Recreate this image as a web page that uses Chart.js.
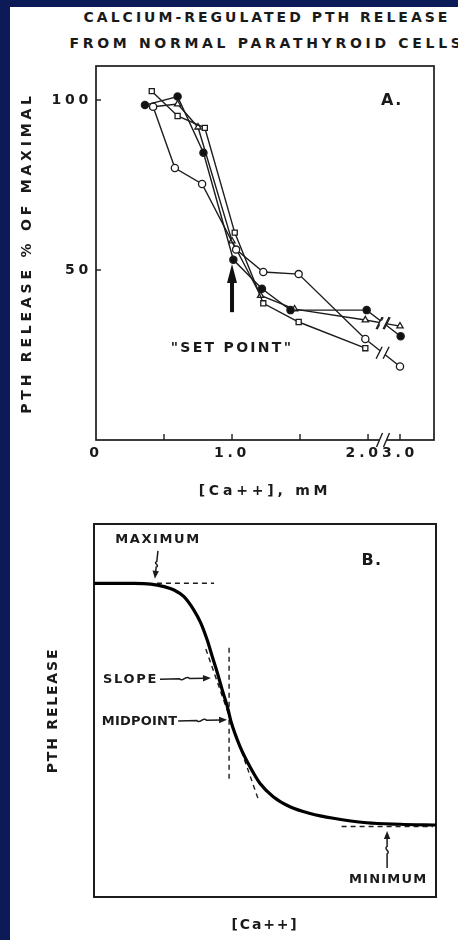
<!DOCTYPE html>
<html><head><meta charset="utf-8">
<script src="https://cdn.jsdelivr.net/npm/chart.js@4/dist/chart.umd.min.js"></script>
<style>
html,body{margin:0;padding:0;}
body{width:458px;height:940px;background:#0c1b57;position:relative;overflow:hidden;font-family:"DejaVu Sans",sans-serif;}
#paper{position:absolute;left:10px;top:7px;right:0;bottom:0;background:#fff;}
.t{position:absolute;left:-133px;width:800px;text-align:center;white-space:nowrap;color:#1a1a1a;font-size:14px;font-weight:bold;line-height:18px;}
canvas{position:absolute;left:0;top:0;}
</style></head>
<body>
<div id="paper"></div>
<div class="t" style="top:8px;letter-spacing:3.0px">CALCIUM-REGULATED PTH RELEASE</div>
<div class="t" style="top:34px;letter-spacing:3.7px">FROM NORMAL PARATHYROID CELLS</div>
<div style="position:absolute;left:0;top:0;width:458px;height:505px"><canvas id="ca" width="458" height="505"></canvas></div>
<div style="position:absolute;left:0;top:505px;width:458px;height:435px"><canvas id="cb" width="458" height="435"></canvas></div>
<script>
// ---------- Panel A data: [Ca++] (mM) vs PTH release (% of maximal) ----------
const caFilled      = [0.36, 0.60, 0.79, 1.01, 1.22, 1.43, 1.99, 3.02];
const pthFilled     = [98.5, 101, 84.5, 53, 44.5, 38.2, 38.2, 30.5];
const caOpenCircle  = [0.42, 0.58, 0.78, 1.03, 1.23, 1.49, 1.98, 3.00];
const pthOpenCircle = [98, 80, 75.3, 56, 49.4, 48.8, 29.7, 21.6];
const caOpenSquare  = [0.41, 0.60, 0.80, 1.02, 1.23, 1.49, 1.98];
const pthOpenSquare = [102.6, 95.3, 91.8, 61, 40.2, 34.7, 27.0];
const caTriangle    = [0.42, 0.60, 0.75, 1.00, 1.21, 1.46, 1.98, 3.00];
const pthTriangle   = [98, 98.8, 92, 58.5, 42.5, 38.5, 35.3, 33.5];

const xTickValues = [0, 0.5, 1.0, 1.5, 2.0, 3.0];
const xTickLabels = ['0', '', '1.0', '', '2.0 ', '3.0'];
const yTickValues = [50, 100];
const yTickLabels = ['50', '100'];

// ---------- Panel B data: schematic sigmoid (arbitrary units) ----------
const caB  = [0, 11.7, 16.6, 20.5, 23.4, 26.3, 29.2, 31.2, 33.1, 34.6, 36.1, 37.5, 39.0, 40.1, 42.7, 45.6, 48.5, 52.4, 57.3, 63.2, 70.0, 79.7, 89.5, 100];
const pthB = [84.1, 84.1, 83.9, 83.2, 82.3, 80.5, 76.9, 73.5, 68.9, 64.4, 60.0, 55.5, 51.0, 46.9, 40.3, 34.9, 30.5, 26.9, 24.2, 22.4, 21.1, 19.9, 19.5, 19.3];
const maxGuideX = [18.4, 35.1], maxGuideY = [84.1, 84.1];
const midGuideX = [39.5, 39.5], midGuideY = [66.8, 30.6];
const slopeGuideX = [32.7, 48.3], slopeGuideY = [66.5, 25.5];
const minGuideX = [72.4, 99.1], minGuideY = [18.9, 18.9];

// broken x axis: above 2.0 mM the axis is compressed
const BREAK_AT = 2.0, COMPRESS = 0.235;
const toAxis = ca => ca <= BREAK_AT ? ca : BREAK_AT + (ca - BREAK_AT) * COMPRESS;
const pts = (xs, ys) => xs.map((x, i) => ({x: toAxis(x), y: ys[i]}));
const ptsB = (xs, ys) => xs.map((x, i) => ({x: x, y: ys[i]}));

Chart.defaults.font.family = '"DejaVu Sans", sans-serif';
Chart.defaults.font.weight = 'bold';
Chart.defaults.color = '#1a1a1a';
const INK = '#1c1c1c';

const spacing = {
  id: 'spacing',
  beforeUpdate(c, a, o) { c.ctx.letterSpacing = o.px + 'px'; },
  beforeDraw(c, a, o) { c.ctx.letterSpacing = o.px + 'px'; }
};
const frame = {
  id: 'frame',
  beforeDatasetsDraw(c, a, o) {
    const {ctx, chartArea: ca} = c;
    ctx.save(); ctx.strokeStyle = INK; ctx.lineWidth = o.w;
    ctx.strokeRect(ca.left, ca.top, ca.right - ca.left, ca.bottom - ca.top);
    ctx.restore();
  }
};
function text(ctx, s, x, y, size, sp, align) {
  ctx.save();
  ctx.letterSpacing = sp + 'px';
  ctx.font = 'bold ' + size + 'px "DejaVu Sans", sans-serif';
  ctx.fillStyle = '#1a1a1a'; ctx.textAlign = align || 'center'; ctx.textBaseline = 'middle';
  ctx.fillText(s, x, y);
  ctx.restore();
}
function slashes(ctx, x, y, h) {
  ctx.save(); ctx.strokeStyle = INK; ctx.lineWidth = 1.4;
  [-3.5, 3.5].forEach(d => {
    ctx.beginPath(); ctx.moveTo(x + d - 3, y + h); ctx.lineTo(x + d + 3, y - h); ctx.stroke();
  });
  ctx.restore();
}

const annotA = {
  id: 'annotA',
  afterDatasetsDraw(c) {
    const {ctx, scales: {x, y}, chartArea: ca} = c;
    ctx.save(); ctx.strokeStyle = INK; ctx.lineWidth = 1.4;
    xTickValues.forEach(v => { if (v === 0) return; const px = x.getPixelForValue(toAxis(v));
      ctx.beginPath(); ctx.moveTo(px, ca.bottom); ctx.lineTo(px, ca.bottom - 6); ctx.stroke(); });
    yTickValues.forEach(v => { const py = y.getPixelForValue(v);
      ctx.beginPath(); ctx.moveTo(ca.left, py); ctx.lineTo(ca.left + 5, py); ctx.stroke(); });
    const bx = x.getPixelForValue(2.11);
    ctx.strokeStyle = '#fff'; ctx.lineWidth = 4;
    ctx.beginPath(); ctx.moveTo(bx - 3, ca.bottom); ctx.lineTo(bx + 3, ca.bottom); ctx.stroke();
    slashes(ctx, bx, ca.bottom, 7);
    [0, 1, 3].forEach(i => {
      const d = c.getDatasetMeta(i).data; const a = d[d.length - 2], b = d[d.length - 1];
      const mx = (a.x + b.x) / 2, my = (a.y + b.y) / 2;
      const L = Math.hypot(b.x - a.x, b.y - a.y), ux = (b.x - a.x) / L, uy = (b.y - a.y) / L;
      ctx.strokeStyle = '#fff'; ctx.lineWidth = 4;
      ctx.beginPath(); ctx.moveTo(mx - ux * 3, my - uy * 3); ctx.lineTo(mx + ux * 3, my + uy * 3); ctx.stroke();
      slashes(ctx, mx, my, 6);
    });
    const ax = x.getPixelForValue(1.0), tail = y.getPixelForValue(37.6), tip = y.getPixelForValue(51.8);
    ctx.fillStyle = '#111';
    ctx.fillRect(ax - 2, tip + 16, 4, tail - tip - 16);
    ctx.beginPath(); ctx.moveTo(ax, tip); ctx.lineTo(ax - 5, tip + 19); ctx.lineTo(ax + 5, tip + 19); ctx.closePath(); ctx.fill();
    ctx.restore();
    text(ctx, '"SET POINT"', x.getPixelForValue(1.0), y.getPixelForValue(27), 14, 2.3);
    text(ctx, 'A.', x.getPixelForValue(2.176), y.getPixelForValue(99.7), 16, 1.5);
  }
};

const lineStyle = {borderColor: INK, borderWidth: 1.4, pointBorderColor: INK, pointBorderWidth: 1.3, pointRadius: 3.6, showLine: true, tension: 0};
new Chart(document.getElementById('ca'), {
  type: 'scatter',
  data: {datasets: [
    Object.assign({label: 'Filled circles', data: pts(caFilled, pthFilled), pointStyle: 'circle', pointBackgroundColor: '#111'}, lineStyle),
    Object.assign({label: 'Open circles', data: pts(caOpenCircle, pthOpenCircle), pointStyle: 'circle', pointBackgroundColor: '#fff'}, lineStyle),
    Object.assign({label: 'Open squares', data: pts(caOpenSquare, pthOpenSquare), pointStyle: 'rect', pointBackgroundColor: '#fff'}, lineStyle),
    Object.assign({label: 'Open triangles', data: pts(caTriangle, pthTriangle), pointStyle: 'triangle', pointBackgroundColor: '#fff'}, lineStyle)
  ]},
  options: {
    responsive: false, animation: false, events: [],
    layout: {padding: {top: 66, right: 24, left: 0, bottom: 0}},
    plugins: {legend: {display: false}, tooltip: {enabled: false}, spacing: {px: 3.8}, frame: {w: 1.7}},
    scales: {
      x: {type: 'linear', min: 0, max: 2.485,
        grid: {display: false, drawTicks: false}, border: {display: false},
        afterBuildTicks: s => { s.ticks = xTickValues.map(v => ({value: toAxis(v)})); },
        afterFit: s => { s.height = 65; },
        ticks: {autoSkip: false, maxRotation: 0, padding: 5, font: {size: 14},
          callback: (v) => { const i = xTickValues.findIndex(t => Math.abs(toAxis(t) - v) < 1e-6); return i >= 0 ? xTickLabels[i] : ''; }},
        title: {display: true, text: '[Ca++], mM', font: {size: 14}, padding: {top: 4, bottom: 5}}
      },
      y: {type: 'linear', min: 0, max: 110,
        grid: {display: false, drawTicks: false}, border: {display: false},
        afterBuildTicks: s => { s.ticks = yTickValues.map(v => ({value: v})); },
        afterFit: s => { s.width = 96; },
        ticks: {padding: 4, font: {size: 14},
          callback: (v) => { const i = yTickValues.indexOf(v); return i >= 0 ? yTickLabels[i] : ''; }},
        title: {display: true, text: 'PTH RELEASE % OF MAXIMAL', font: {size: 14}, padding: {top: 19, bottom: 0}}
      }
    }
  },
  plugins: [spacing, frame, annotA]
});

function wavyArrow(ctx, x1, y1, x2, y2) {
  const dx = x2 - x1, dy = y2 - y1, L = Math.hypot(dx, dy);
  const ux = dx / L, uy = dy / L, nx = -uy, ny = ux;
  const p = t => [x1 + dx * t, y1 + dy * t];
  const a = p(0.38), b = p(0.58), m1 = p(0.45), m2 = p(0.51);
  ctx.beginPath(); ctx.moveTo(x1, y1); ctx.lineTo(a[0], a[1]);
  ctx.bezierCurveTo(m1[0] + nx * 4, m1[1] + ny * 4, m2[0] - nx * 4, m2[1] - ny * 4, b[0], b[1]);
  ctx.lineTo(x2 - ux * 5, y2 - uy * 5); ctx.stroke();
  ctx.beginPath(); ctx.moveTo(x2, y2);
  ctx.lineTo(x2 - ux * 8 + nx * 3.2, y2 - uy * 8 + ny * 3.2);
  ctx.lineTo(x2 - ux * 8 - nx * 3.2, y2 - uy * 8 - ny * 3.2);
  ctx.closePath(); ctx.fill();
}
const annotB = {
  id: 'annotB',
  afterDatasetsDraw(c) {
    const {ctx, scales: {x, y}} = c;
    const X = v => x.getPixelForValue(v), Y = v => y.getPixelForValue(v);
    ctx.save(); ctx.strokeStyle = INK; ctx.fillStyle = INK; ctx.lineWidth = 1.5;
    wavyArrow(ctx, X(18.7), Y(92.8), X(17.8), Y(85.3));
    wavyArrow(ctx, X(19.3), Y(58.4), X(34.2), Y(58.7));
    wavyArrow(ctx, X(24.6), Y(47.2), X(38.9), Y(47.5));
    wavyArrow(ctx, X(85.7), Y(7.8), X(85.7), Y(17.7));
    ctx.restore();
    text(ctx, 'MAXIMUM', X(18.7), Y(95.7), 13, 1.6);
    text(ctx, 'SLOPE', X(2.6), Y(58.4), 13, 1.7, 'left');
    text(ctx, 'MIDPOINT', X(2.3), Y(46.9), 13, 0.2, 'left');
    text(ctx, 'MINIMUM', X(86), Y(4.6), 13, 1.2);
    text(ctx, 'B.', X(81.3), Y(90.1), 16, 1.5);
  }
};
const guide = {borderColor: INK, borderWidth: 1.4, borderDash: [5, 4], pointRadius: 0, showLine: true};
new Chart(document.getElementById('cb'), {
  type: 'scatter',
  data: {datasets: [
    {label: 'PTH release', data: ptsB(caB, pthB), borderColor: '#000', borderWidth: 3.2, pointRadius: 0, showLine: true, cubicInterpolationMode: 'monotone'},
    Object.assign({label: 'Maximum', data: ptsB(maxGuideX, maxGuideY)}, guide),
    Object.assign({label: 'Midpoint', data: ptsB(midGuideX, midGuideY)}, guide),
    Object.assign({label: 'Slope', data: ptsB(slopeGuideX, slopeGuideY)}, guide),
    Object.assign({label: 'Minimum', data: ptsB(minGuideX, minGuideY)}, guide)
  ]},
  options: {
    responsive: false, animation: false, events: [],
    layout: {padding: {top: 19, right: 22, left: 0, bottom: 0}},
    plugins: {legend: {display: false}, tooltip: {enabled: false}, spacing: {px: 1.8}, frame: {w: 2}},
    scales: {
      x: {type: 'linear', min: 0, max: 100, grid: {display: false, drawTicks: false}, border: {display: false},
        ticks: {display: false}, afterFit: s => { s.height = 43; },
        title: {display: true, text: '[Ca++]', font: {size: 14}, padding: {top: 0, bottom: 6.6}}},
      y: {type: 'linear', min: 0, max: 100, grid: {display: false, drawTicks: false}, border: {display: false},
        ticks: {display: false}, afterFit: s => { s.width = 94; },
        title: {display: true, text: 'PTH RELEASE', font: {size: 14}, padding: {top: 44.6, bottom: 0}}}
    }
  },
  plugins: [spacing, frame, annotB]
});
</script>
</body></html>
